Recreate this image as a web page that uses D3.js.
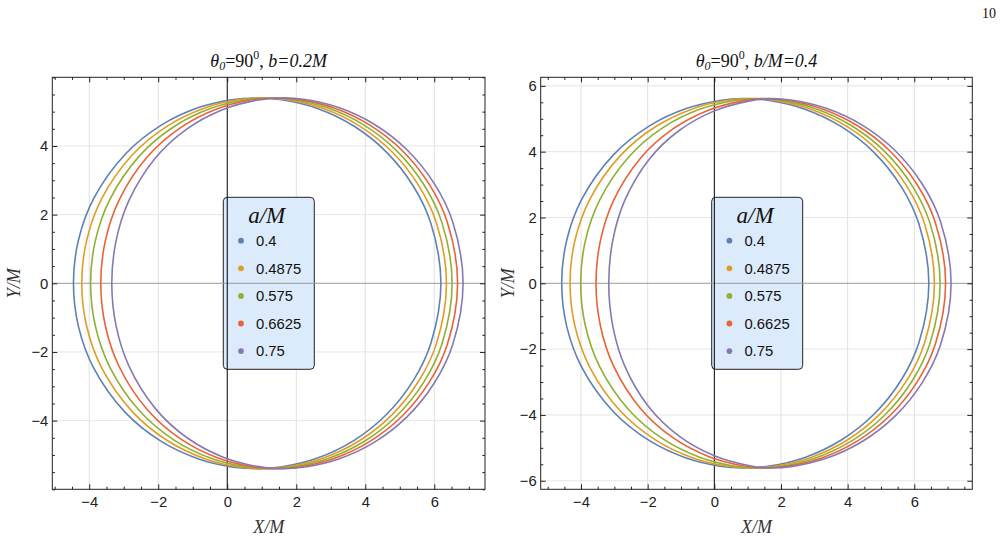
<!DOCTYPE html>
<html><head><meta charset="utf-8">
<script src="https://cdn.jsdelivr.net/npm/d3@7"></script>
<style>body{margin:0;background:#fff}svg{display:block}</style>
</head><body>
<svg id="chart" width="1004" height="542"></svg>
<script>
// ---------------- data ----------------
const aLabels = ["0.4", "0.4875", "0.575", "0.6625", "0.75"];
const titleTails = ["b=0.2M", "b/M=0.4"];
const xTicks = [-4, -2, 0, 2, 4, 6];
const yTicksLeft = [-4, -2, 0, 2, 4];
const yTicksRight = [-6, -4, -2, 0, 2, 4, 6];
const pageNumber = "10";

// upper halves of the shadow curves (X/M, Y/M), lower half is the mirror image
// left panel: b = 0.2M
const L_a0400 = [[-4.457,0],[-4.311,1.261],[-3.865,2.478],[-2.956,3.760],[-1.912,4.606],[-0.829,5.117],[0.124,5.346],[0.831,5.399],[1.584,5.345],[2.615,5.090],[3.678,4.573],[4.607,3.829],[5.391,2.834],[5.904,1.738],[6.192,0]];
const L_a0488 = [[-4.217,0],[-4.074,1.252],[-3.642,2.458],[-2.754,3.737],[-1.727,4.587],[-0.650,5.108],[0.310,5.344],[1.013,5.399],[1.752,5.347],[2.770,5.097],[3.827,4.587],[4.758,3.847],[5.545,2.854],[6.063,1.757],[6.353,0]];
const L_a0575 = [[-3.960,0],[-3.822,1.244],[-3.404,2.440],[-2.544,3.712],[-1.540,4.566],[-0.471,5.097],[0.494,5.340],[1.195,5.399],[1.919,5.348],[2.924,5.104],[3.976,4.600],[4.907,3.864],[5.700,2.869],[6.222,1.767],[6.517,0]];
const L_a0663 = [[-3.665,0],[-3.533,1.237],[-3.134,2.424],[-2.314,3.683],[-1.341,4.540],[-0.286,5.083],[0.685,5.337],[1.377,5.399],[2.086,5.350],[3.077,5.111],[4.123,4.613],[5.055,3.881],[5.851,2.887],[6.378,1.780],[6.676,0]];
const L_a0750 = [[-3.346,0],[-3.221,1.242],[-2.848,2.414],[-2.082,3.650],[-1.155,4.506],[-0.118,5.064],[0.860,5.332],[1.559,5.399],[2.252,5.351],[3.230,5.117],[4.269,4.626],[5.200,3.898],[6.001,2.903],[6.533,1.791],[6.834,0]];
// right panel: b/M = 0.4
const R_a0400 = [[-4.580,0],[-4.429,1.309],[-3.969,2.571],[-3.028,3.903],[-1.947,4.783],[-0.823,5.317],[0.170,5.557],[0.864,5.612],[1.646,5.556],[2.718,5.291],[3.823,4.753],[4.789,3.980],[5.604,2.946],[6.137,1.807],[6.436,0]];
const R_a0488 = [[-4.330,0],[-4.183,1.299],[-3.736,2.552],[-2.820,3.879],[-1.756,4.764],[-0.638,5.307],[0.360,5.553],[1.053,5.612],[1.821,5.558],[2.879,5.299],[3.978,4.768],[4.945,3.999],[5.764,2.967],[6.302,1.826],[6.604,0]];
const R_a0575 = [[-4.010,0],[-3.870,1.291],[-3.441,2.530],[-2.562,3.848],[-1.529,4.737],[-0.423,5.293],[0.581,5.550],[1.242,5.612],[1.995,5.559],[3.040,5.306],[4.133,4.781],[5.101,4.017],[5.925,2.983],[6.468,1.836],[6.774,0]];
const R_a0663 = [[-3.551,0],[-3.419,1.290],[-3.026,2.511],[-2.217,3.802],[-1.243,4.692],[-0.161,5.268],[0.854,5.544],[1.431,5.612],[2.168,5.561],[3.199,5.313],[4.286,4.795],[5.254,4.034],[6.082,3.001],[6.630,1.850],[6.939,0]];
const R_a0750 = [[-3.168,0],[-3.046,1.311],[-2.691,2.511],[-1.965,3.758],[-1.056,4.643],[0.001,5.240],[1.029,5.537],[1.620,5.612],[2.341,5.563],[3.357,5.319],[4.437,4.808],[5.406,4.052],[6.238,3.017],[6.790,1.862],[7.103,0]];

// ---------------- style / layout ----------------
const palette = ["#5e81b5", "#e19c24", "#8fb032", "#eb6235", "#8778b3"];
const SANS = "'Liberation Sans', Arial, Helvetica, sans-serif";
const SERIF = "'Liberation Serif', 'Times New Roman', serif";

const panels = [
  { x0: 52.3, x1: 485, y0: 77.3, y1: 489.3, xDom: [-5.07, 7.47], yDom: [-6, 6],
    yTicks: yTicksLeft, curves: [L_a0400, L_a0488, L_a0575, L_a0663, L_a0750],
    tail: titleTails[0], yLabX: 20 },
  { x0: 540.7, x1: 972.3, y0: 77.3, y1: 489.3, xDom: [-5.21, 7.74], yDom: [-6.26, 6.26],
    yTicks: yTicksRight, curves: [R_a0400, R_a0488, R_a0575, R_a0663, R_a0750],
    tail: titleTails[1], yLabX: 514 }
];

const svg = d3.select("#chart");
svg.append("rect").attr("width", 1004).attr("height", 542).attr("fill", "#fff");

svg.append("text").attr("x", 996).attr("y", 18).attr("text-anchor", "end")
  .attr("font-family", SERIF).attr("font-size", 14).attr("fill", "#111").text(pageNumber);

function minorValues(dom, majors) {
  const out = [];
  for (let v = Math.ceil(dom[0] * 2) / 2; v <= dom[1] + 1e-9; v += 0.5) {
    if (!majors.some(m => Math.abs(m - v) < 1e-6)) out.push(v);
  }
  return out;
}

function closedPoints(upper) {
  const lower = upper.filter(p => p[1] !== 0).map(p => [p[0], -p[1]]).reverse();
  return upper.concat(lower);
}

panels.forEach((P, pi) => {
  const g = svg.append("g");
  const xs = d3.scaleLinear().domain(P.xDom).range([P.x0, P.x1]);
  const ys = d3.scaleLinear().domain(P.yDom).range([P.y1, P.y0]);
  const W = P.x1 - P.x0, H = P.y1 - P.y0;

  // grid lines
  g.append("g").selectAll("line").data(xTicks.filter(v => v !== 0)).join("line")
    .attr("x1", d => xs(d)).attr("x2", d => xs(d)).attr("y1", P.y0).attr("y2", P.y1)
    .attr("stroke", "#e0e0e0").attr("stroke-width", 1);
  g.append("g").selectAll("line").data(P.yTicks.filter(v => v !== 0)).join("line")
    .attr("y1", d => ys(d)).attr("y2", d => ys(d)).attr("x1", P.x0).attr("x2", P.x1)
    .attr("stroke", "#e6e6e6").attr("stroke-width", 1);

  // legend box (fill under axis lines)
  const lx = P.x0 + 171, ly = P.y0 + 120;
  g.append("rect").attr("x", lx).attr("y", ly).attr("width", 91).attr("height", 172)
    .attr("rx", 4).attr("ry", 4).attr("fill", "#dcebfb").attr("stroke", "#222").attr("stroke-width", 1);

  // axis lines
  g.append("line").attr("x1", P.x0).attr("x2", P.x1).attr("y1", ys(0)).attr("y2", ys(0))
    .attr("stroke", "#9a9a9a").attr("stroke-width", 1);
  g.append("line").attr("x1", xs(0)).attr("x2", xs(0)).attr("y1", P.y0).attr("y2", P.y1)
    .attr("stroke", "#000").attr("stroke-width", 1);

  // curves
  const clipId = "clip" + pi;
  svg.append("clipPath").attr("id", clipId).append("rect")
    .attr("x", P.x0).attr("y", P.y0).attr("width", W).attr("height", H);
  const line = d3.line().x(d => xs(d[0])).y(d => ys(d[1]))
    .curve(d3.curveCatmullRomClosed.alpha(0.5));
  g.append("g").attr("clip-path", `url(#${clipId})`)
    .selectAll("path").data(P.curves).join("path")
    .attr("d", d => line(closedPoints(d)))
    .attr("fill", "none").attr("stroke", (d, i) => palette[i]).attr("stroke-width", 1.6);

  // legend contents
  g.append("text").attr("x", lx + 43.4).attr("y", ly + 26).attr("text-anchor", "middle")
    .attr("font-family", SERIF).attr("font-style", "italic").attr("font-size", 23)
    .attr("fill", "#111").text("a/M");
  const items = g.append("g").selectAll("g").data(aLabels).join("g")
    .attr("transform", (d, i) => `translate(${lx},${ly + 43.4 + i * 27.6})`);
  items.append("circle").attr("cx", 17.7).attr("cy", 0).attr("r", 2.9).attr("fill", (d, i) => palette[i]);
  items.append("text").attr("x", 32.7).attr("y", 5.2).attr("font-family", SANS).attr("font-size", 14.8)
    .attr("fill", "#111").text(d => d);

  // frame ticks
  const fmt = d3.format("d");
  const ax = (axis, tr) => g.append("g").attr("transform", tr).call(axis)
    .call(s => s.select(".domain").remove())
    .call(s => s.selectAll("line").attr("stroke", "#222"))
    .call(s => s.selectAll("text").attr("font-family", SANS).attr("font-size", 14.8).attr("fill", "#222"));
  const xMin = minorValues(P.xDom, xTicks), yMin = minorValues(P.yDom, P.yTicks);
  ax(d3.axisBottom(xs).tickValues(xTicks).tickSize(-5).tickPadding(7).tickFormat(fmt), `translate(0,${P.y1})`);
  ax(d3.axisBottom(xs).tickValues(xMin).tickSize(-2.6).tickFormat(""), `translate(0,${P.y1})`);
  ax(d3.axisTop(xs).tickValues(xTicks).tickSize(-5).tickFormat(""), `translate(0,${P.y0})`);
  ax(d3.axisTop(xs).tickValues(xMin).tickSize(-2.6).tickFormat(""), `translate(0,${P.y0})`);
  ax(d3.axisLeft(ys).tickValues(P.yTicks).tickSize(-5).tickPadding(4).tickFormat(fmt), `translate(${P.x0},0)`);
  ax(d3.axisLeft(ys).tickValues(yMin).tickSize(-2.6).tickFormat(""), `translate(${P.x0},0)`);
  ax(d3.axisRight(ys).tickValues(P.yTicks).tickSize(-5).tickFormat(""), `translate(${P.x1},0)`);
  ax(d3.axisRight(ys).tickValues(yMin).tickSize(-2.6).tickFormat(""), `translate(${P.x1},0)`);

  g.append("rect").attr("x", P.x0).attr("y", P.y0).attr("width", W).attr("height", H)
    .attr("fill", "none").attr("stroke", "#222").attr("stroke-width", 1);

  // title
  const cx = (P.x0 + P.x1) / 2;
  const t = g.append("text").attr("x", cx).attr("y", 66.7).attr("text-anchor", "middle")
    .attr("font-family", SERIF).attr("font-size", 18).attr("fill", "#111");
  t.append("tspan").attr("font-style", "italic").text("θ");
  t.append("tspan").attr("font-style", "italic").attr("font-size", 12).attr("dy", 3.5).text("0");
  t.append("tspan").attr("dy", -3.5).text("=90");
  t.append("tspan").attr("font-size", 12).attr("dy", -7.5).text("0");
  t.append("tspan").attr("dy", 7.5).text(", ");
  t.append("tspan").attr("font-style", "italic").text(P.tail);

  // axis labels
  g.append("text").attr("x", cx).attr("y", 533).attr("text-anchor", "middle")
    .attr("font-family", SERIF).attr("font-style", "italic").attr("font-size", 18)
    .attr("fill", "#333").text("X/M");
  g.append("text").attr("transform", `translate(${P.yLabX},${ys(0)}) rotate(-90)`)
    .attr("text-anchor", "middle").attr("font-family", SERIF).attr("font-style", "italic")
    .attr("font-size", 18).attr("fill", "#333").text("Y/M");
});
</script>
</body></html>
